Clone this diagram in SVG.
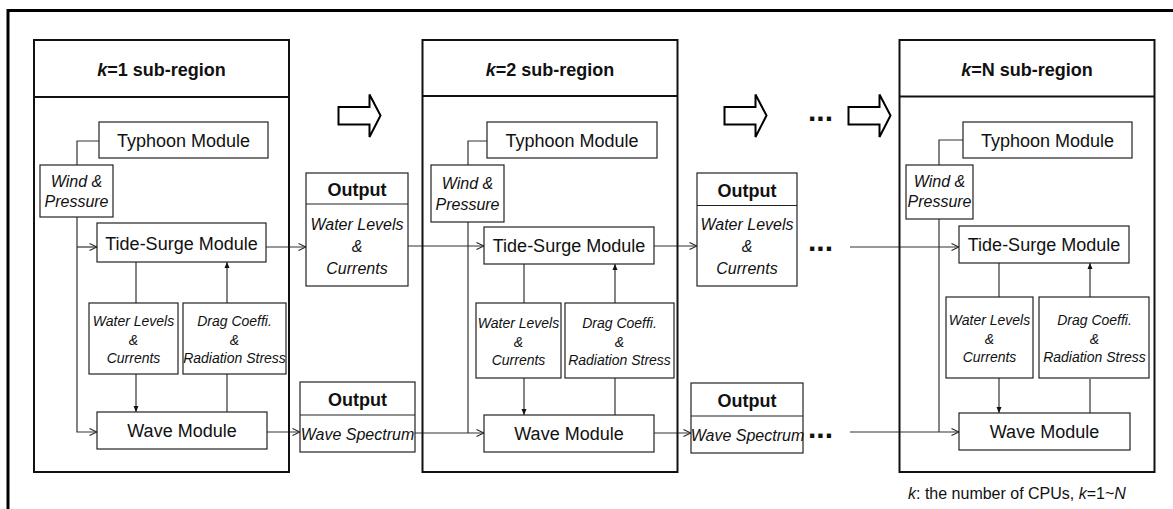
<svg xmlns="http://www.w3.org/2000/svg" width="1173" height="509" viewBox="0 0 1173 509">
  <defs>
    <style>
      .frame { fill: none; stroke: #000; stroke-width: 3; }
      .region { fill: none; stroke: #111; stroke-width: 2; }
      .box { fill: #fff; stroke: #222; stroke-width: 1.2; }
      .wire { fill: none; stroke: #333; stroke-width: 1.2; }
      .open { marker-end: url(#chev); }
      .fill { marker-end: url(#tri); }
      .big { fill: #fff; stroke: #000; stroke-width: 2; stroke-linejoin: miter; }
      text { font-family: "Liberation Sans", Arial, sans-serif; fill: #111; text-anchor: middle; }
      .title { font-size: 18px; font-weight: bold; }
      .mod { font-size: 18px; }
      .lbl { font-size: 16px; font-style: italic; }
      .sm { font-size: 14px; font-style: italic; }
      .dots { font-size: 30px; font-weight: bold; text-anchor: start; }
      .note { font-size: 16px; text-anchor: start; }
    </style>
    <marker id="chev" viewBox="0 0 8 8" refX="8" refY="4" markerWidth="8" markerHeight="8" markerUnits="userSpaceOnUse" orient="auto">
      <path d="M0.5,0.5 L8,4 L0.5,7.5" fill="none" stroke="#222" stroke-width="1.1"/>
    </marker>
    <marker id="tri" viewBox="0 0 6 6" refX="6" refY="3" markerWidth="6" markerHeight="6" markerUnits="userSpaceOnUse" orient="auto">
      <path d="M0,0.5 L6,3 L0,5.5 Z" fill="#111"/>
    </marker>
    <polygon id="bigArrow" points="0,-8.5 31,-8.5 31,-21 42,0 31,21.5 31,9 0,9"/>
  </defs>

  <!-- outer frame (runs off the right and bottom edges) -->
  <rect class="frame" x="8" y="10.5" width="1180" height="520"/>

  <!-- hand-over arrows between sub-regions -->
  <g id="handover">
    <use href="#bigArrow" class="big" x="338.5" y="115.5"/>
    <use href="#bigArrow" class="big" x="724.5" y="115.5"/>
    <use href="#bigArrow" class="big" x="848.5" y="115.5"/>
    <text class="dots" x="808" y="121">...</text>
    <text class="dots" x="808" y="251">...</text>
    <text class="dots" x="808" y="438">...</text>
  </g>

  <!-- connectors -->
  <g id="connectors">
    <!-- k=1 -->
    <path class="wire" d="M99,141 H77 V165"/>
    <path class="wire open" d="M77,217 V432 H97"/>
    <path class="wire open" d="M77,247 H97"/>
    <path class="wire" d="M136,262 V303"/>
    <path class="wire fill" d="M136,374 V412"/>
    <path class="wire" d="M227,412 V374"/>
    <path class="wire fill" d="M227,303 V262"/>
    <path class="wire open" d="M266,247 H306"/>
    <path class="wire open" d="M267,432 H300"/>
    <path class="wire open" d="M408,246 H484"/>
    <path class="wire open" d="M415,433 H484"/>
    <!-- k=2 -->
    <path class="wire" d="M487,141 H468 V165"/>
    <path class="wire" d="M468,222 V433"/>
    <path class="wire" d="M524,264 V303"/>
    <path class="wire fill" d="M524,378 V415"/>
    <path class="wire" d="M615,415 V378"/>
    <path class="wire fill" d="M615,303 V264"/>
    <path class="wire open" d="M654,246 H697"/>
    <path class="wire open" d="M654,433 H691"/>
    <!-- k=N -->
    <path class="wire open" d="M850,247 H959"/>
    <path class="wire open" d="M850,432 H959"/>
    <path class="wire" d="M963,140 H939 V165"/>
    <path class="wire" d="M939,219 V432"/>
    <path class="wire" d="M999,263 V297"/>
    <path class="wire fill" d="M999,378 V413"/>
    <path class="wire" d="M1090,413 V379"/>
    <path class="wire fill" d="M1090,297 V263"/>
  </g>

  <!-- sub-region k=1 -->
  <g id="region1">
    <rect class="region" x="34" y="40" width="255" height="432"/>
    <line class="region" x1="34" y1="97" x2="289" y2="97"/>
    <text class="title" x="161.5" y="76"><tspan font-style="italic">k</tspan>=1 sub-region</text>
  </g>
  <g id="typhoon1">
    <rect class="box" x="99" y="122" width="169" height="36"/>
    <text class="mod" x="183.5" y="146.5">Typhoon Module</text>
  </g>
  <g id="wind1">
    <rect class="box" x="40" y="165" width="73" height="52"/>
    <text class="lbl" x="76.5" y="187">Wind &amp;</text>
    <text class="lbl" x="76.5" y="207">Pressure</text>
  </g>
  <g id="tide1">
    <rect class="box" x="97" y="223" width="169" height="39"/>
    <text class="mod" x="181.5" y="249.5">Tide-Surge Module</text>
  </g>
  <g id="levels1">
    <rect class="box" x="89" y="303" width="89" height="71"/>
    <text class="sm" x="133.5" y="326">Water Levels</text>
    <text class="sm" x="133.5" y="344.5">&amp;</text>
    <text class="sm" x="133.5" y="362.5">Currents</text>
  </g>
  <g id="drag1">
    <rect class="box" x="183" y="303" width="103" height="71"/>
    <text class="sm" x="234.5" y="326">Drag Coeffi.</text>
    <text class="sm" x="234.5" y="344.5">&amp;</text>
    <text class="sm" x="234.5" y="362.5">Radiation Stress</text>
  </g>
  <g id="wave1">
    <rect class="box" x="97" y="412" width="170" height="37"/>
    <text class="mod" x="182" y="437">Wave Module</text>
  </g>

  <!-- outputs after k=1 -->
  <g id="output1">
    <rect class="box" x="306" y="173" width="102" height="113"/>
    <line class="box" x1="306" y1="204" x2="408" y2="204"/>
    <text class="title" x="357" y="196">Output</text>
    <text class="lbl" x="357" y="230">Water Levels</text>
    <text class="lbl" x="357" y="252">&amp;</text>
    <text class="lbl" x="357" y="273.5">Currents</text>
  </g>
  <g id="output2">
    <rect class="box" x="300" y="382" width="115" height="70"/>
    <line class="box" x1="300" y1="415" x2="415" y2="415"/>
    <text class="title" x="357.5" y="405.5">Output</text>
    <text class="lbl" x="357.5" y="440">Wave Spectrum</text>
  </g>

  <!-- sub-region k=2 -->
  <g id="region2">
    <rect class="region" x="422.5" y="40" width="255" height="432"/>
    <line class="region" x1="422.5" y1="96" x2="677.5" y2="96"/>
    <text class="title" x="550" y="76"><tspan font-style="italic">k</tspan>=2 sub-region</text>
  </g>
  <g id="typhoon2">
    <rect class="box" x="487" y="122" width="170" height="36"/>
    <text class="mod" x="572" y="146.5">Typhoon Module</text>
  </g>
  <g id="wind2">
    <rect class="box" x="431" y="165" width="73" height="57"/>
    <text class="lbl" x="467.5" y="188.5">Wind &amp;</text>
    <text class="lbl" x="467.5" y="210">Pressure</text>
  </g>
  <g id="tide2">
    <rect class="box" x="484" y="227" width="170" height="37"/>
    <text class="mod" x="569" y="252">Tide-Surge Module</text>
  </g>
  <g id="levels2">
    <rect class="box" x="476" y="303" width="85" height="75"/>
    <text class="sm" x="518.5" y="328">Water Levels</text>
    <text class="sm" x="518.5" y="346.5">&amp;</text>
    <text class="sm" x="518.5" y="364.5">Currents</text>
  </g>
  <g id="drag2">
    <rect class="box" x="565" y="303" width="109" height="75"/>
    <text class="sm" x="619.5" y="328">Drag Coeffi.</text>
    <text class="sm" x="619.5" y="346.5">&amp;</text>
    <text class="sm" x="619.5" y="364.5">Radiation Stress</text>
  </g>
  <g id="wave2">
    <rect class="box" x="484" y="415" width="170" height="37"/>
    <text class="mod" x="569" y="440">Wave Module</text>
  </g>

  <!-- outputs after k=2 -->
  <g id="output3">
    <rect class="box" x="697" y="173" width="100" height="113"/>
    <line class="box" x1="697" y1="205.5" x2="797" y2="205.5"/>
    <text class="title" x="747" y="196.5">Output</text>
    <text class="lbl" x="747" y="230">Water Levels</text>
    <text class="lbl" x="747" y="252">&amp;</text>
    <text class="lbl" x="747" y="273.5">Currents</text>
  </g>
  <g id="output4">
    <rect class="box" x="691" y="383" width="112" height="70"/>
    <line class="box" x1="691" y1="416" x2="803" y2="416"/>
    <text class="title" x="747" y="406.5">Output</text>
    <text class="lbl" x="747.5" y="440.5">Wave Spectrum</text>
  </g>

  <!-- sub-region k=N -->
  <g id="regionN">
    <rect class="region" x="899.5" y="40" width="255" height="432"/>
    <line class="region" x1="899.5" y1="96.5" x2="1154.5" y2="96.5"/>
    <text class="title" x="1027" y="76"><tspan font-style="italic">k</tspan>=N sub-region</text>
  </g>
  <g id="typhoonN">
    <rect class="box" x="963" y="122" width="169" height="36"/>
    <text class="mod" x="1047.5" y="146.5">Typhoon Module</text>
  </g>
  <g id="windN">
    <rect class="box" x="906" y="165" width="67" height="54"/>
    <text class="lbl" x="939.5" y="187">Wind &amp;</text>
    <text class="lbl" x="939.5" y="207">Pressure</text>
  </g>
  <g id="tideN">
    <rect class="box" x="959" y="226" width="170" height="37"/>
    <text class="mod" x="1044" y="251">Tide-Surge Module</text>
  </g>
  <g id="levelsN">
    <rect class="box" x="946" y="297" width="87" height="81"/>
    <text class="sm" x="989.5" y="325">Water Levels</text>
    <text class="sm" x="989.5" y="343.5">&amp;</text>
    <text class="sm" x="989.5" y="361.5">Currents</text>
  </g>
  <g id="dragN">
    <rect class="box" x="1039" y="297" width="110" height="81"/>
    <text class="sm" x="1094.5" y="325">Drag Coeffi.</text>
    <text class="sm" x="1094.5" y="343.5">&amp;</text>
    <text class="sm" x="1094.5" y="361.5">Radiation Stress</text>
  </g>
  <g id="waveN">
    <rect class="box" x="959" y="413" width="171" height="37"/>
    <text class="mod" x="1044.5" y="438">Wave Module</text>
  </g>

  <!-- footnote -->
  <text class="note" x="908" y="499"><tspan font-style="italic">k</tspan>: the number of CPUs, <tspan font-style="italic">k</tspan>=1~<tspan font-style="italic">N</tspan></text>
</svg>
